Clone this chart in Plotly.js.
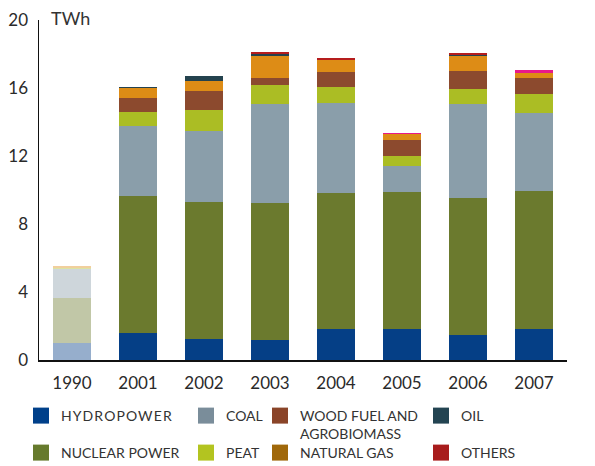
<!DOCTYPE html>
<html>
<head>
<meta charset="utf-8">
<script src="https://cdn.plot.ly/plotly-3.0.1.min.js"></script>
<style>
html,body{margin:0;padding:0;background:#fff;}
#chart{width:595px;height:466px;}
.legendtext{letter-spacing:1.1px;}
</style>
</head>
<body>
<div id="chart"></div>
<script>
// ---- data (TWh) ----
const years = ['1990','2001','2002','2003','2004','2005','2006','2007'];
const hydropower   = [1.02, 1.57, 1.22, 1.16, 1.81, 1.81, 1.45, 1.81];
const nuclearPower = [2.63, 8.06, 8.06, 8.06, 8.00, 8.05, 8.06, 8.11];
const coal         = [1.71, 4.12, 4.17, 5.82, 5.29, 1.53, 5.53, 4.59];
const peat         = [0.06, 0.82, 1.24, 1.12, 0.94, 0.59, 0.88, 1.12];
const woodFuel     = [0.00, 0.82, 1.12, 0.41, 0.88, 0.94, 1.06, 0.94];
const naturalGas   = [0.12, 0.59, 0.58, 1.29, 0.71, 0.35, 0.88, 0.29];
const oil          = [0.00, 0.06, 0.30, 0.12, 0.00, 0.04, 0.11, 0.00];
const others       = [0.00, 0.00, 0.00, 0.12, 0.12, 0.06, 0.06, 0.18];
const yTicks = [0, 4, 8, 12, 16, 20];
const yTickText = ['0', '4', '8', '12', '16', '20'];

// ---- styles ----
const barOpacity = [0.42, 1, 1, 1, 1, 1, 1, 1];
const othersColors = ['#b51d1d','#b51d1d','#b51d1d','#b51d1d','#b51d1d','#e8198a','#b51d1d','#e8198a'];

const series = [
  {name:'HYDROPOWER', y:hydropower, color:'#053f86', leg:'#00408a', legend:'legend',  lx:21, row:0},
  {name:'NUCLEAR POWER', y:nuclearPower, color:'#6b7a2e', leg:'#667a2c', legend:'legend2', lx:21, row:1},
  {name:'COAL', y:coal, color:'#8a9eaa', leg:'#7a8d9a', legend:'legend3', lx:186, row:0},
  {name:'PEAT', y:peat, color:'#abbd24', leg:'#b3c420', legend:'legend4', lx:186, row:1},
  {name:'WOOD FUEL AND<br>AGROBIOMASS', y:woodFuel, color:'#8c4a2e', leg:'#8a4428', legend:'legend5', lx:260, row:0},
  {name:'NATURAL GAS', y:naturalGas, color:'#dd8c16', leg:'#a0680a', legend:'legend6', lx:260, row:1},
  {name:'OIL', y:oil, color:'#24424e', leg:'#234452', legend:'legend7', lx:421, row:0},
  {name:'OTHERS', y:others, color:othersColors, leg:'#a81c1c', legend:'legend8', lx:421, row:1}
];

const traces = [];
series.forEach(s => {
  traces.push({
    type:'bar', x:years, y:s.y, name:s.name, showlegend:false,
    marker:{color:s.color, opacity:barOpacity, line:{width:0}},
    hoverinfo:'x+y+name'
  });
});
// legend-only swatches on a hidden axis pair (no visible marks)
series.forEach(s => {
  traces.push({
    type:'scatter', mode:'markers', x:[-1], y:[-1], name:s.name,
    xaxis:'x2', yaxis:'y2', cliponaxis:true,
    legend:s.legend, showlegend:true, hoverinfo:'skip',
    marker:{symbol:'square', size:17, color:s.leg}
  });
});

const layout = {
  width:595, height:466,
  margin:{l:39, r:28, t:20, b:106, autoexpand:false},
  paper_bgcolor:'#fff', plot_bgcolor:'#fff',
  showlegend:true,
  barmode:'stack', bargap:0.41,
  font:{family:'Lato, "Open Sans", sans-serif', color:'#2a2a2a', size:17},
  xaxis:{type:'category', range:[-0.5,7.5], showline:true, linecolor:'#111', linewidth:1.5,
         ticks:'outside', ticklen:7, tickcolor:'rgba(0,0,0,0)', showgrid:false, zeroline:false,
         automargin:false, tickfont:{size:17, color:'#2a2a2a'}},
  yaxis:{range:[0,20], tickvals:yTicks, ticktext:yTickText, showline:true, linecolor:'#111', linewidth:1.5,
         ticks:'outside', ticklen:6, tickcolor:'rgba(0,0,0,0)', showgrid:false, zeroline:false,
         automargin:false, tickfont:{size:17, color:'#2a2a2a'}},
  xaxis2:{overlaying:'x', range:[0,1], visible:false, fixedrange:true},
  yaxis2:{overlaying:'y', range:[0,1], visible:false, fixedrange:true},
  annotations:[{text:'TWh', xref:'paper', yref:'paper', x:0.018, y:1.005, xanchor:'left', yanchor:'middle',
                showarrow:false, font:{size:18, color:'#333'}}]
};
series.forEach(s => {
  layout[s.legend] = {
    xref:'container', yref:'container',
    x: s.lx/595, y: s.row === 0 ? 1 - 400/466 : 1 - 437/466,
    xanchor:'left', yanchor:'top',
    bgcolor:'rgba(0,0,0,0)', borderwidth:0, itemsizing:'trace', itemwidth:30,
    valign:'top',
    font:{size:14, color:'#333', family:'Lato, "Open Sans", sans-serif'}
  };
});

Plotly.newPlot('chart', traces, layout, {displayModeBar:false, staticPlot:true});
</script>
</body>
</html>
